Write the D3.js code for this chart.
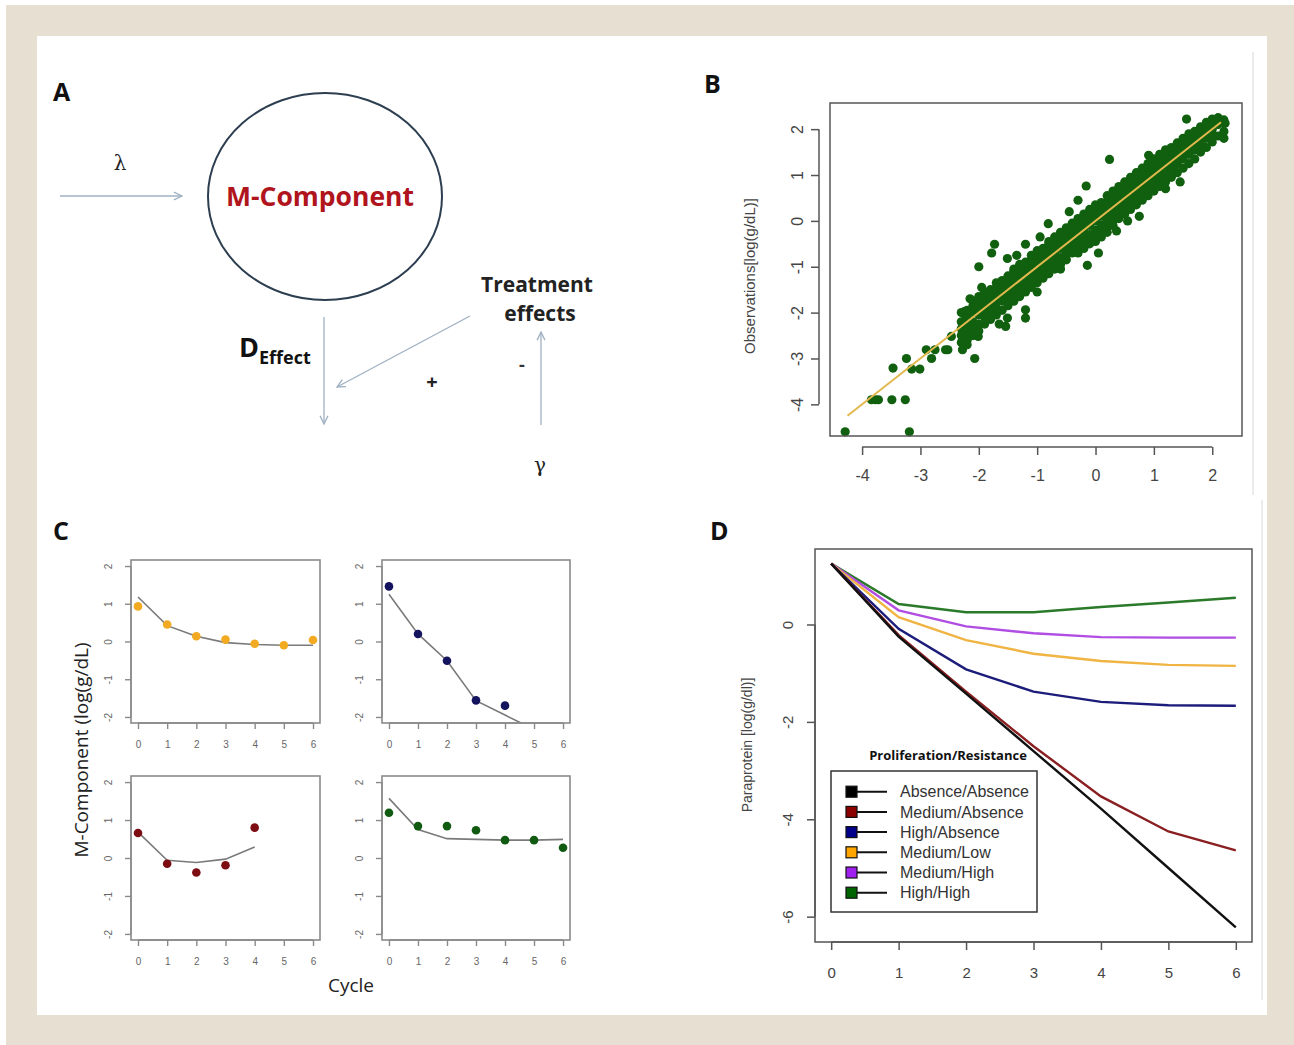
<!DOCTYPE html>
<html><head><meta charset="utf-8">
<script src="https://cdn.jsdelivr.net/npm/d3@7"></script>
<style>html,body{margin:0;padding:0;background:#fff;}svg{display:block;}</style>
</head><body>
<script>
// ---------------- DATA ----------------
// Panel B: predictions (x) vs observations (y)
const bXTicks = [-4,-3,-2,-1,0,1,2];
const bYTicks = [-4,-3,-2,-1,0,1,2];
const bOutliers = [[-4.29,-4.6],[-3.19,-4.6],[-3.84,-3.9],[-3.77,-3.9],[-3.72,-3.9],[-3.49,-3.9],[-3.26,-3.9],
  [-3.47,-3.21],[-3.24,-3.0],[-3.15,-3.23],[-3.01,-3.23],[-2.9,-2.81],[-2.81,-3.0],[-2.75,-2.81],[-2.57,-2.81],
  [-2.53,-2.81],[-2.28,-2.81],[-2.47,-2.52],[-2.07,-3.0],[-2.01,-2.52],[-2.22,-2.12],[-2.25,-1.98],[-2.0,-1.0],
  [-1.73,-0.51],[-1.78,-0.7],[-1.51,-0.82],[-1.2,-0.51],[-1.2,-1.94],[-1.2,-2.12],[-1.54,-2.3],[-1.51,-2.12],
  [-0.81,-0.06],[-0.16,0.76],[-0.14,-0.97],[0.24,1.34],[0.36,-0.22],[0.18,-0.22],[0.91,1.43],[1.56,2.22],
  [1.34,1.1],[2.2,1.8],[1.85,1.62],[2.1,2.13],[2.22,2.13],[-1.0,-1.55],[-0.6,-1.05],[0.55,0.0],[-0.3,0.45],[1.2,0.7],
  [-2.15,-1.7],[-1.95,-1.45],[-1.65,-2.25],[-1.35,-0.75],[-0.45,0.2],[0.05,-0.7],[0.75,0.1],[1.45,0.85],[-0.95,-0.35]];
const bBandX = [-2.3,-2.2,-2.1,-2.0,-1.9,-1.8,-1.7,-1.6,-1.5,-1.4,-1.3,-1.2,-1.1,-1.0,-0.9,-0.8,-0.7,-0.6,-0.5,-0.4,
  -0.3,-0.2,-0.1,0.0,0.1,0.2,0.3,0.4,0.5,0.6,0.7,0.8,0.9,1.0,1.1,1.2,1.3,1.4,1.5,1.6,1.7,1.8,1.9,2.0,2.1,2.2];
const bBandY = [
  [-2.35,-2.5,-2.2,-2.0,-2.65],[-2.1,-2.3,-2.45,-2.6,-1.95,-2.7],[-2.0,-2.2,-2.35,-1.85,-2.5,-1.75],[-2.05,-1.8,-2.25,-1.95,-2.4,-1.65],
  [-1.7,-1.95,-2.1,-1.85,-2.25,-1.55],[-1.6,-1.85,-1.75,-2.0,-1.5,-2.15],[-1.55,-1.75,-1.9,-1.45,-1.65,-2.05,-1.35],[-1.4,-1.6,-1.75,-1.55,-1.3,-1.95],
  [-1.35,-1.55,-1.7,-1.45,-1.2,-1.85],[-1.2,-1.45,-1.6,-1.35,-1.1,-1.75,-1.05],[-1.15,-1.3,-1.5,-1.0,-1.4,-1.65,-0.95],[-1.05,-1.25,-1.4,-0.9,-1.15,-1.55],
  [-0.95,-1.1,-1.3,-0.85,-1.2,-1.45,-0.75],[-0.8,-1.0,-1.2,-0.9,-1.1,-1.35,-0.65],[-0.7,-0.95,-1.1,-0.8,-0.6,-1.25],[-0.6,-0.85,-1.0,-0.7,-0.5,-1.15,-0.45],
  [-0.5,-0.7,-0.9,-0.6,-0.8,-1.05,-0.35],[-0.4,-0.6,-0.8,-0.5,-0.3,-0.95,-0.25],[-0.3,-0.55,-0.7,-0.45,-0.2,-0.85,-0.15],[-0.2,-0.45,-0.6,-0.35,-0.1,-0.7,-0.05],
  [-0.1,-0.35,-0.5,-0.25,0.0,-0.6,0.05,-0.7],[0.0,-0.25,-0.4,-0.15,0.15,-0.5,-0.6],[0.1,-0.1,-0.3,0.0,0.25,-0.4,-0.5],[0.2,0.0,-0.2,0.1,-0.35,0.35,-0.45],
  [0.3,0.1,-0.1,0.2,-0.25,0.4,-0.35],[0.4,0.2,0.0,0.3,-0.15,0.1,0.55,-0.25],[0.5,0.3,0.1,0.4,0.2,0.0,0.65,-0.1],[0.6,0.4,0.2,0.5,0.3,0.75,0.05],
  [0.7,0.5,0.3,0.6,0.4,0.85,0.15],[0.8,0.6,0.4,0.7,0.5,0.95,0.25],[0.9,0.7,0.5,0.8,0.6,1.05,0.35],[1.0,0.8,0.6,0.9,0.7,1.15,0.45],
  [1.1,0.9,0.7,1.0,0.8,1.25,0.55],[1.2,1.0,0.8,1.1,0.9,1.35,0.65],[1.3,1.1,0.9,1.2,1.0,1.45,0.75],[1.4,1.2,1.0,1.3,1.1,1.55,0.85],
  [1.5,1.3,1.15,1.4,1.6,0.95],[1.6,1.4,1.25,1.5,1.7,1.05],[1.65,1.5,1.35,1.55,1.8,1.15],[1.75,1.6,1.45,1.7,1.9,1.25],
  [1.85,1.7,1.55,1.8,1.95,1.35],[1.95,1.8,1.65,1.9,2.05,1.5],[2.05,1.9,1.8,2.0,2.15,1.6],[2.15,2.0,1.9,2.1,2.22,1.72],[2.2,2.1,2.25,1.85],[2.2,2.15,1.95]];
const bFit = [[-4.25,-4.25],[2.15,2.15]];

// Panel C: individual patients
const cCycles = [0,1,2,3,4,5,6];
const cTicksY = [-2,-1,0,1,2];
const cObsOrange = [0.93,0.45,0.14,0.05,-0.06,-0.1,0.04];
const cFitOrange = [1.18,0.42,0.14,-0.03,-0.08,-0.1,-0.1];
const cObsNavy = [1.46,0.2,-0.51,-1.56,-1.7];
const cFitNavy = [1.25,0.2,-0.51,-1.57,-1.95,-2.33,-2.7];
const cObsRed = [0.66,-0.15,-0.38,-0.19,0.8];
const cFitRed = [0.68,-0.06,-0.12,-0.03,0.29];
const cObsGreen = [1.19,0.84,0.84,0.73,0.47,0.47,0.27];
const cFitGreen = [1.57,0.75,0.51,0.49,0.47,0.47,0.49];

// Panel D: simulated scenarios
const dCycles = [0,1,2,3,4,5,6];
const dTicksY = [-6,-4,-2,0];
const dLabels = ["Absence/Absence","Medium/Absence","High/Absence","Medium/Low","Medium/High","High/High"];
const dAbsAbs = [1.25,-0.25,-1.42,-2.6,-3.78,-5.0,-6.22];
const dMedAbs = [1.25,-0.22,-1.38,-2.5,-3.53,-4.25,-4.64];
const dHighAbs = [1.25,-0.09,-0.92,-1.38,-1.59,-1.66,-1.67];
const dMedLow = [1.25,0.15,-0.32,-0.6,-0.75,-0.83,-0.85];
const dMedHigh = [1.25,0.29,-0.04,-0.18,-0.26,-0.27,-0.27];
const dHighHigh = [1.25,0.42,0.25,0.25,0.36,0.45,0.55];

// ---------------- DRAW ----------------
const W = 1294, H = 1045;
const SANS = "'Liberation Sans', Arial, sans-serif";
const CAL = "'Open Sans', 'Noto Sans', sans-serif";
const fmt = d => String(d);
const svg = d3.select("body").append("svg").attr("width", W).attr("height", H);

// frame
svg.append("rect").attr("x",0).attr("y",0).attr("width",W).attr("height",H).attr("fill","#fff");
svg.append("rect").attr("x",6).attr("y",5).attr("width",W-6).attr("height",H-5).attr("fill","#e6dfd2");
svg.append("rect").attr("x",37).attr("y",36).attr("width",1230).attr("height",979).attr("fill","#fff");
svg.append("line").attr("x1",1253).attr("x2",1253).attr("y1",52).attr("y2",495).attr("stroke","#d8d8d8");
svg.append("line").attr("x1",1262).attr("x2",1262).attr("y1",500).attr("y2",1000).attr("stroke","#d8d8d8");

// panel letters
[["A",53,101],["B",704,93],["C",53,540],["D",710,540]].forEach(d=>{
  svg.append("text").attr("x",d[1]).attr("y",d[2]).text(d[0])
    .attr("font-family",CAL).attr("font-weight","bold").attr("font-size",25).attr("fill","#111");
});

// ---------- Panel A (diagram) ----------
const A = svg.append("g");
const arrowCol = "#9fb1c2";
function arrow(x1,y1,x2,y2){
  A.append("line").attr("x1",x1).attr("y1",y1).attr("x2",x2).attr("y2",y2)
    .attr("stroke",arrowCol).attr("stroke-width",1.3);
  const ang = Math.atan2(y2-y1,x2-x1), L = 9, sp = 0.45;
  const p1 = [x2 - L*Math.cos(ang-sp), y2 - L*Math.sin(ang-sp)];
  const p2 = [x2 - L*Math.cos(ang+sp), y2 - L*Math.sin(ang+sp)];
  A.append("path").attr("d",`M${p1[0]},${p1[1]}L${x2},${y2}L${p2[0]},${p2[1]}`)
    .attr("fill","none").attr("stroke",arrowCol).attr("stroke-width",1.3);
}
A.append("ellipse").attr("cx",325).attr("cy",196.5).attr("rx",117).attr("ry",103.5)
  .attr("fill","none").attr("stroke","#2c3e50").attr("stroke-width",2);
A.append("text").attr("x",320).attr("y",206).attr("text-anchor","middle").text("M-Component")
  .attr("font-family",CAL).attr("font-weight","bold").attr("font-size",26).attr("fill","#b0141c")
  .attr("textLength",188).attr("lengthAdjust","spacingAndGlyphs");
arrow(60,196,182,196);
arrow(324,317,324,424);
arrow(470,316,337,387);
arrow(541,425,541,332);
A.append("text").attr("x",120).attr("y",170).attr("text-anchor","middle").text("λ")
  .attr("font-family","'DejaVu Serif', serif").attr("font-size",20).attr("fill","#222");
A.append("text").attr("x",540).attr("y",472).attr("text-anchor","middle").text("γ")
  .attr("font-family","'DejaVu Serif', serif").attr("font-size",20).attr("fill","#222");
A.append("text").attr("x",537).attr("y",292).attr("text-anchor","middle").text("Treatment")
  .attr("font-family",CAL).attr("font-weight","bold").attr("font-size",21).attr("fill","#222");
A.append("text").attr("x",540).attr("y",321).attr("text-anchor","middle").text("effects")
  .attr("font-family",CAL).attr("font-weight","bold").attr("font-size",21).attr("fill","#222");
const dt = A.append("text").attr("x",239).attr("y",357).attr("font-family",CAL).attr("font-weight","bold").attr("fill","#111");
dt.append("tspan").text("D").attr("font-size",27);
dt.append("tspan").text("Effect").attr("font-size",18).attr("dy",7);
A.append("text").attr("x",432).attr("y",389).attr("text-anchor","middle").text("+")
  .attr("font-family",CAL).attr("font-weight","bold").attr("font-size",20).attr("fill","#222");
A.append("text").attr("x",522).attr("y",371).attr("text-anchor","middle").text("-")
  .attr("font-family",CAL).attr("font-weight","bold").attr("font-size",18).attr("fill","#333");

// ---------- axis helpers (R-like) ----------
function xAxis(g, x, ticks, y0, len, labOff, fs, col, lc, lw){
  const a = g.append("g").attr("transform",`translate(0,${y0})`);
  a.call(d3.axisBottom(x).tickValues(ticks).tickSize(len).tickSizeOuter(0).tickFormat(fmt));
  a.select(".domain").remove();
  a.append("line").attr("x1",x(ticks[0])).attr("x2",x(ticks[ticks.length-1])).attr("stroke",lc).attr("stroke-width",lw);
  a.selectAll(".tick line").attr("stroke",lc).attr("stroke-width",lw);
  a.selectAll(".tick text").attr("y",labOff).attr("dy","0.35em").attr("font-size",fs)
    .attr("font-family",SANS).attr("fill",col);
}
function yAxis(g, y, ticks, x0, len, labOff, fs, col, lc, lw){
  const a = g.append("g").attr("transform",`translate(${x0},0)`);
  a.call(d3.axisLeft(y).tickValues(ticks).tickSize(len).tickSizeOuter(0).tickFormat(fmt));
  a.select(".domain").remove();
  a.append("line").attr("y1",y(ticks[0])).attr("y2",y(ticks[ticks.length-1])).attr("stroke",lc).attr("stroke-width",lw);
  a.selectAll(".tick line").attr("stroke",lc).attr("stroke-width",lw);
  a.selectAll(".tick text").attr("x",null).attr("dy","0.35em").attr("text-anchor","middle")
    .attr("transform",`translate(${-labOff},0) rotate(-90)`).attr("font-size",fs)
    .attr("font-family",SANS).attr("fill",col);
}

// ---------- Panel B ----------
const B = svg.append("g");
const bx = d3.scaleLinear().domain([-4.55,2.51]).range([830,1242]);
const by = d3.scaleLinear().domain([-4.69,2.57]).range([436,103]);
const bPts = bOutliers.slice();
bBandX.forEach((xv,i)=>bBandY[i].forEach(yv=>bPts.push([xv,yv])));
B.selectAll("circle.pt").data(bPts).enter().append("circle").attr("class","pt")
  .attr("cx",d=>bx(d[0])).attr("cy",d=>by(d[1])).attr("r",4.6).attr("fill","#11600f");
B.append("path").datum(bFit).attr("d",d3.line().x(d=>bx(d[0])).y(d=>by(d[1])))
  .attr("stroke","#e2b94e").attr("stroke-width",2).attr("fill","none");
B.append("rect").attr("x",830).attr("y",103).attr("width",412).attr("height",333)
  .attr("fill","none").attr("stroke","#555").attr("stroke-width",1.5);
xAxis(B, bx, bXTicks, 447, 8, 28, 16, "#444", "#555", 1.5);
yAxis(B, by, bYTicks, 819, 8, 22, 16, "#444", "#555", 1.5);
B.append("text").attr("transform","translate(755,276) rotate(-90)").attr("text-anchor","middle")
  .text("Observations[log(g/dL)]").attr("font-family",SANS).attr("font-size",15).attr("fill","#444");

// ---------- Panel C ----------
const C = svg.append("g");
const cBoxes = [
  {x0:131,x1:320,y0:560,y1:723, obs:cObsOrange, fit:cFitOrange, col:"#f2aa22"},
  {x0:382,x1:570,y0:560,y1:723, obs:cObsNavy, fit:cFitNavy, col:"#13135e"},
  {x0:131,x1:320,y0:776,y1:940, obs:cObsRed, fit:cFitRed, col:"#7d0d12"},
  {x0:382,x1:570,y0:776,y1:940, obs:cObsGreen, fit:cFitGreen, col:"#115a11"}
];
cBoxes.forEach((p,i)=>{
  const x = d3.scaleLinear().domain([-0.24,6.24]).range([p.x0,p.x1]);
  const y = d3.scaleLinear().domain([-2.16,2.16]).range([p.y1,p.y0]);
  const g = C.append("g");
  const cid = "clipC"+i;
  g.append("clipPath").attr("id",cid).append("rect").attr("x",p.x0).attr("y",p.y0)
    .attr("width",p.x1-p.x0).attr("height",p.y1-p.y0);
  g.append("path").datum(p.fit.map((v,k)=>[cCycles[k],v])).attr("clip-path",`url(#${cid})`)
    .attr("d",d3.line().x(d=>x(d[0])).y(d=>y(d[1])))
    .attr("fill","none").attr("stroke","#7a7a7a").attr("stroke-width",1.6);
  g.selectAll("circle").data(p.obs.map((v,k)=>[cCycles[k],v])).enter().append("circle")
    .attr("cx",d=>x(d[0])).attr("cy",d=>y(d[1])).attr("r",4.3).attr("fill",p.col);
  g.append("rect").attr("x",p.x0).attr("y",p.y0).attr("width",p.x1-p.x0).attr("height",p.y1-p.y0)
    .attr("fill","none").attr("stroke","#8a8a8a").attr("stroke-width",1.6);
  xAxis(g, x, cCycles, p.y1, 6, 21, 10, "#666", "#8a8a8a", 1.4);
  yAxis(g, y, cTicksY, p.x0, 6, 23, 10, "#666", "#8a8a8a", 1.4);
});
C.append("text").attr("transform","translate(88,750) rotate(-90)").attr("text-anchor","middle")
  .text("M-Component (log(g/dL)").attr("font-family",CAL).attr("font-size",19).attr("fill","#222");
C.append("text").attr("x",351).attr("y",992).attr("text-anchor","middle").text("Cycle")
  .attr("font-family",CAL).attr("font-size",19).attr("fill","#222");

// ---------- Panel D ----------
const D = svg.append("g");
const dx = d3.scaleLinear().domain([-0.24,6.24]).range([815,1252]);
const dy = d3.scaleLinear().domain([-6.52,1.55]).range([942,549]);
const dSeries = [dAbsAbs,dMedAbs,dHighAbs,dMedLow,dMedHigh,dHighHigh];
const dLineCols = ["#111111","#8a1f22","#1c1c7a","#f0b443","#b14de3","#2a7a2a"];
const dBoxCols = ["#000000","#8b0000","#00008b","#ffa500","#a020f0","#006400"];
const dLine = d3.line().x((v,k)=>dx(dCycles[k])).y(v=>dy(v));
[5,4,3,2,1,0].forEach(i=>{
  D.append("path").datum(dSeries[i]).attr("d",dLine).attr("fill","none")
    .attr("stroke",dLineCols[i]).attr("stroke-width",2.4);
});
D.append("rect").attr("x",815).attr("y",549).attr("width",437).attr("height",393)
  .attr("fill","none").attr("stroke","#555").attr("stroke-width",1.5);
xAxis(D, dx, dCycles, 942, 8, 31, 15, "#444", "#555", 1.5);
yAxis(D, dy, dTicksY, 815, 8, 27, 15, "#444", "#555", 1.5);
D.append("text").attr("transform","translate(752,745) rotate(-90)").attr("text-anchor","middle")
  .text("Paraprotein [log(g/dl)]").attr("font-family",SANS).attr("font-size",14).attr("fill","#444");
// legend
D.append("text").attr("x",948).attr("y",760).attr("text-anchor","middle").text("Proliferation/Resistance")
  .attr("font-family",CAL).attr("font-weight","bold").attr("font-size",13).attr("fill","#111");
D.append("rect").attr("x",831).attr("y",771).attr("width",206).attr("height",141)
  .attr("fill","#fff").attr("stroke","#333").attr("stroke-width",1.5);
dLabels.forEach((lab,i)=>{
  const yy = 791.7 + i*20.2;
  D.append("line").attr("x1",852).attr("x2",887).attr("y1",yy).attr("y2",yy).attr("stroke","#111").attr("stroke-width",2);
  D.append("rect").attr("x",846).attr("y",yy-5.5).attr("width",11).attr("height",11)
    .attr("fill",dBoxCols[i]).attr("stroke","#111").attr("stroke-width",1.2);
  D.append("text").attr("x",900).attr("y",yy).attr("dy","0.35em").text(lab)
    .attr("font-family",SANS).attr("font-size",16).attr("fill","#333");
});
</script>
</body></html>
